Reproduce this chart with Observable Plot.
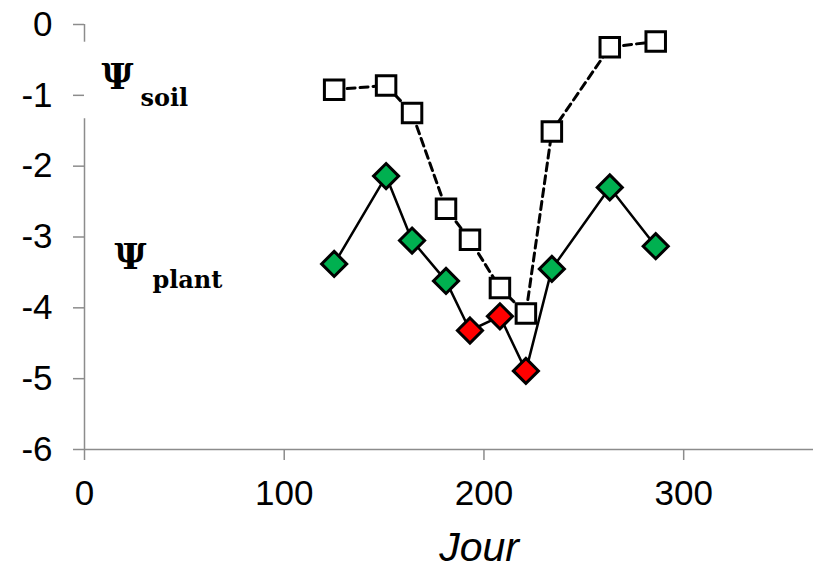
<!DOCTYPE html>
<html>
<head>
<meta charset="utf-8">
<script src="https://cdn.jsdelivr.net/npm/d3@7"></script>
<script src="https://cdn.jsdelivr.net/npm/@observablehq/plot@0.6"></script>
<style>
  html, body { margin: 0; padding: 0; background: #fff; }
  #chart svg { display: block; }
</style>
</head>
<body>
<div id="chart"></div>
<script>
// Day of year (Jour)
const days = [125, 151, 164, 181, 193, 208, 221, 234, 263, 286];
// Soil water potential
const psiSoil = [-0.92, -0.86, -1.25, -2.60, -3.04, -3.72, -4.08, -1.51, -0.32, -0.24];
// Plant water potential
const psiPlant = [-3.38, -2.14, -3.05, -3.62, -4.32, -4.12, -4.89, -3.45, -2.30, -3.13];
// Plant status (stressed points drawn in red)
const plantStatus = ["ok", "ok", "ok", "ok", "stress", "stress", "stress", "ok", "ok", "ok"];

const xTicks = [0, 100, 200, 300];
const yTicks = [0, -1, -2, -3, -4, -5, -6];

// Annotation labels (Ψ with subscript)
const labelSymbols = [
  {x: 8.5, y: -0.905, text: "Ψ"},
  {x: 15, y: -3.45, text: "Ψ"}
];
const labelSubs = [
  {x: 28, y: -1.15, text: "soil"},
  {x: 34, y: -3.72, text: "plant"}
];
// y-axis line segments (interrupted behind the Ψsoil label box)
const yAxisSegments = [
  {y1: 0, y2: -0.25},
  {y1: -1.33, y2: -6}
];

const soil = days.map((d, i) => ({day: d, psi: psiSoil[i]}));
const plant = days.map((d, i) => ({day: d, psi: psiPlant[i], status: plantStatus[i]}));

const axisColor = "#8c8c8c";
const tickFont = "Liberation Sans, Arial, sans-serif";

const chart = Plot.plot({
  width: 817,
  height: 570,
  marginLeft: 84,
  marginRight: 4,
  marginTop: 24,
  marginBottom: 121,
  style: {fontFamily: tickFont, background: "#fff", overflow: "visible"},
  x: {domain: [0, 365]},
  y: {domain: [-6, 0]},
  color: {domain: ["ok", "stress"], range: ["#00B050", "#FF0000"]},
  marks: [
    Plot.axisX({
      ticks: xTicks, tickFormat: d => String(d), tickSize: 11, tickPadding: 20,
      stroke: axisColor, strokeWidth: 1.5, fill: "#000", fontSize: 35, label: null
    }),
    Plot.axisY({
      ticks: yTicks, tickFormat: d => String(d), tickSize: 11, tickPadding: 21,
      stroke: axisColor, strokeWidth: 1.5, fill: "#000", fontSize: 35, label: null
    }),
    Plot.ruleY([-6], {stroke: axisColor, strokeWidth: 1.5}),
    Plot.ruleX(yAxisSegments, {x: 0, y1: "y1", y2: "y2", stroke: axisColor, strokeWidth: 1.5}),
    // Soil: dashed line + open squares
    Plot.line(soil, {x: "day", y: "psi", stroke: "#000", strokeWidth: 3, strokeDasharray: "8,5"}),
    Plot.dot(soil, {x: "day", y: "psi", symbol: "square", r: 11, fill: "#fff", stroke: "#000", strokeWidth: 3}),
    // Plant: solid line + diamonds
    Plot.line(plant, {x: "day", y: "psi", stroke: "#000", strokeWidth: 2.5}),
    Plot.dot(plant, {x: "day", y: "psi", symbol: "diamond2", r: 11.3, fill: "status", stroke: "#000", strokeWidth: 3}),
    // Labels
    Plot.text(labelSymbols, {x: "x", y: "y", text: "text", textAnchor: "start", lineAnchor: "bottom",
      fontFamily: "DejaVu Serif", fontWeight: "bold", fontSize: 35, fill: "#000"}),
    Plot.text(labelSubs, {x: "x", y: "y", text: "text", textAnchor: "start", lineAnchor: "bottom",
      fontFamily: "DejaVu Serif", fontWeight: "bold", fontSize: 24, fill: "#000"}),
    Plot.text(["Jour"], {frameAnchor: "bottom", dx: 30, dy: 111, lineAnchor: "bottom",
      fontSize: 41, fontStyle: "italic", fill: "#000", fontFamily: tickFont})
  ]
});

document.getElementById("chart").appendChild(chart);
</script>
</body>
</html>
